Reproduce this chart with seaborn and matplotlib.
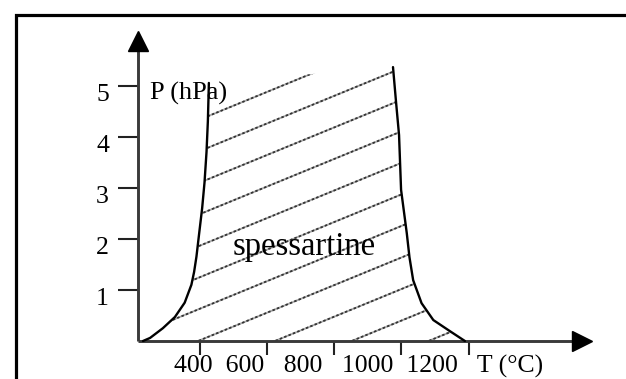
import numpy as np
import pandas as pd
import matplotlib
matplotlib.use("Agg")
import matplotlib.pyplot as plt
import matplotlib.transforms as mtransforms
from matplotlib.patches import Polygon
from matplotlib.lines import Line2D
import seaborn as sns

# ---------------- data ----------------
left_T = [231, 252, 290, 326, 355, 375, 383, 390, 398, 407, 414, 420, 424, 427]
left_P = [0, 0.06, 0.25, 0.47, 0.75, 1.1, 1.35, 1.65, 2.1, 2.6, 3.1, 3.7, 4.3, 5.05]
right_T = [1189, 1145, 1095, 1060, 1035, 1024, 1016, 1003, 999, 993, 984, 975]
right_P = [0, 0.19, 0.41, 0.74, 1.19, 1.64, 2.11, 2.76, 2.96, 4.03, 4.68, 5.36]
y_ticks = [1, 2, 3, 4, 5]
y_tick_labels = ["1", "2", "3", "4", "5"]
x_ticks = [400, 600, 800, 1000, 1200]
x_tick_labels = ["400", "600", "800", "1000", "1200"]
x_gaps = [2, 3, 3, 2, 3]
x_title = "T (°C)"
y_title = "P (hPa)"
region_label = "spessartine"
hatch_slope = 0.0027      # P per °C
hatch_T0 = 395
hatch_step = 228.6

# ---------------- style ----------------
sns.set_theme(style="white")
plt.rcParams['font.family'] = ['Liberation Serif', 'DejaVu Serif']

W, H, DPI = 626, 379, 100
fig = plt.figure(figsize=(W / DPI, H / DPI), dpi=DPI)
ax = fig.add_axes([0, 0, 1, 1])
ax.set_facecolor("white")

# pixel <-> data mapping of the layout
def T_of(px):
    return 800 + (px - 334.2) / 0.336

def P_of(py):
    return (341 - py) / 51.1

ax.set_xlim(T_of(0), T_of(W))
ax.set_ylim(P_of(H), P_of(0))

T_axis = T_of(138)

# axes
for s in ["top", "right"]:
    ax.spines[s].set_visible(False)
ax.spines["left"].set_position(("data", T_axis))
ax.spines["bottom"].set_position(("data", 0))
ax.spines["left"].set_bounds(0, P_of(50))
ax.spines["bottom"].set_bounds(T_axis, T_of(572))
for s in ["left", "bottom"]:
    ax.spines[s].set_color("#3a3a3a")
    ax.spines[s].set_linewidth(2.1)
    ax.spines[s].set_capstyle("butt")

ax.set_yticks(y_ticks)
ax.set_yticklabels(y_tick_labels, fontsize=18.5)
ax.set_xticks(x_ticks)
ax.set_xticklabels([])
ax.tick_params(axis="y", direction="out", length=14.4, width=1.5, color="#222222",
               pad=6.5, left=True, labelcolor="black")
ax.tick_params(axis="x", direction="out", length=10, width=1.5, color="#222222",
               bottom=True)
for lab in ax.get_yticklabels():
    lab.set_transform(lab.get_transform() +
                      mtransforms.ScaledTranslation(0, -7 / DPI, fig.dpi_scale_trans))

# arrow heads
ax.plot([T_axis], [P_of(41)], marker="^", markersize=14, color="black",
        clip_on=False, zorder=5)
ax.plot([T_of(582)], [0], marker=">", markersize=14, color="black",
        clip_on=False, zorder=5)

# region polygon (clip for hatch)
poly_T = left_T + right_T[::-1]
poly_P = left_P + right_P[::-1]
poly = Polygon(np.column_stack([poly_T, poly_P]), closed=True,
               facecolor="none", edgecolor="none", transform=ax.transData)
ax.add_patch(poly)

Ts = np.array([100, 1400])
for k in range(-7, 4):
    Tk = hatch_T0 + hatch_step * k
    Ps = hatch_slope * (Ts - Tk)
    l1, = ax.plot(Ts, Ps, color="#a8a8a8", lw=1.3, solid_capstyle="butt", zorder=2)
    l2, = ax.plot(Ts, Ps, color="#333333", lw=1.3, ls=(0, (1.4, 1.2)), zorder=2)
    l1.set_clip_path(poly)
    l2.set_clip_path(poly)

# boundary curves
df_left = pd.DataFrame({"T": left_T, "P": left_P})
df_right = pd.DataFrame({"T": right_T, "P": right_P})
sns.lineplot(data=df_left, x="T", y="P", sort=False, estimator=None,
             color="black", lw=1.7, ax=ax, zorder=3)
sns.lineplot(data=df_right, x="T", y="P", sort=False, estimator=None,
             color="black", lw=1.7, ax=ax, zorder=3)
ax.set_xlabel("")
ax.set_ylabel("")

# texts
ax.text(T_of(150), P_of(100), y_title, fontsize=19, ha="left", va="baseline",
        color="black")
ax.text(T_of(233), P_of(255), region_label, fontsize=23.5, ha="left",
        va="baseline", color="black")
xs = ""
for lab, g in zip(x_tick_labels, x_gaps):
    xs += lab + " " * g
xs += x_title
ax.text(T_of(174), P_of(373), xs, fontsize=18.5, ha="left", va="baseline",
        color="black", clip_on=False)

# outer frame (cropped box)
fig.add_artist(Line2D([15.5 / W, 15.5 / W, 1.2], [-0.2, 1 - 15 / H, 1 - 15 / H],
                      transform=fig.transFigure, color="black", lw=2.3,
                      solid_joinstyle="miter"))

fig.savefig("out.png", dpi=DPI)
